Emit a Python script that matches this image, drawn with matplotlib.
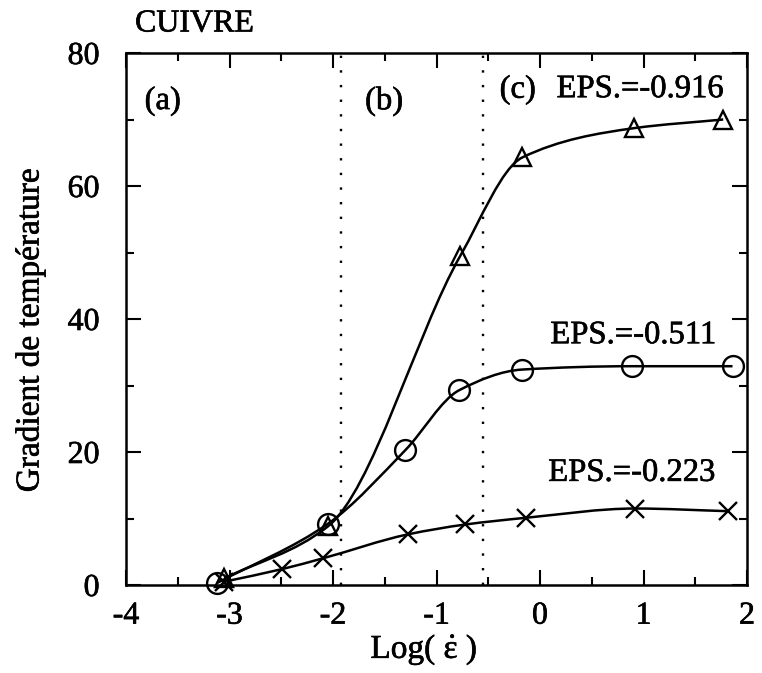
import numpy as np
import matplotlib
matplotlib.use('Agg')
import matplotlib.pyplot as plt
import matplotlib.patheffects as pe
from matplotlib.path import Path
from matplotlib.patches import PathPatch

# ---- data ----
x_tri = [-3.05, -2.05, -0.77, -0.17, 0.91, 1.77]
y_tri = [1.0, 8.8, 49.5, 64.3, 68.7, 70.0]

x_circ = [-3.12, -2.05, -1.30, -0.78, -0.17, 0.89, 1.86]
y_circ = [0.3, 9.2, 20.3, 29.3, 32.4, 32.9, 32.9]

x_cross = [-3.05, -2.49, -2.10, -1.28, -0.72, -0.14, 0.92, 1.82]
y_cross = [0.5, 2.4, 4.0, 7.6, 9.1, 10.1, 11.5, 11.1]

region_bounds = [-1.92, -0.55]
region_labels = ["(a)", "(b)", "(c)"]
series_labels = ["EPS.=-0.916", "EPS.=-0.511", "EPS.=-0.223"]
x_ticks = [-4, -3, -2, -1, 0, 1, 2]
y_ticks = [0, 20, 40, 60, 80]

plt.rcParams['font.family'] = ['Liberation Serif', 'DejaVu Serif']
plt.rcParams['mathtext.fontset'] = 'custom'
plt.rcParams['mathtext.rm'] = 'Liberation Serif'
plt.rcParams['mathtext.it'] = 'Liberation Serif:italic'

thick = [pe.withStroke(linewidth=0.45, foreground='black')]


def smooth_path(xs, ys):
    """Monotone cubic (Fritsch-Carlson) Bezier path through the points."""
    x = np.asarray(xs, float)
    y = np.asarray(ys, float)
    h = np.diff(x)
    d = np.diff(y) / h
    n = len(x)
    m = np.zeros(n)
    m[0] = d[0]
    m[-1] = d[-1]
    for i in range(1, n - 1):
        if d[i - 1] * d[i] <= 0:
            m[i] = 0.0
        else:
            w1 = 2 * h[i] + h[i - 1]
            w2 = h[i] + 2 * h[i - 1]
            m[i] = (w1 + w2) / (w1 / d[i - 1] + w2 / d[i])
    verts = [(x[0], y[0])]
    codes = [Path.MOVETO]
    for i in range(n - 1):
        verts += [(x[i] + h[i] / 3, y[i] + m[i] * h[i] / 3),
                  (x[i + 1] - h[i] / 3, y[i + 1] - m[i + 1] * h[i] / 3),
                  (x[i + 1], y[i + 1])]
        codes += [Path.CURVE4] * 3
    return Path(verts, codes)


fig = plt.figure(figsize=(7.62, 6.73), dpi=100)
ax = fig.add_axes([126 / 762, 1 - 585 / 673, (747 - 126) / 762, (585 - 53) / 673])

ax.set_xlim(-4, 2)
ax.set_ylim(0, 80)

lw = 1.8
for xs, ys, mk, ms in [(x_tri, y_tri, '^', 12.5),
                       (x_circ, y_circ, 'o', 15),
                       (x_cross, y_cross, 'x', 13)]:
    ax.add_patch(PathPatch(smooth_path(xs, ys), facecolor='none',
                           edgecolor='black', lw=lw, zorder=3))
    ax.plot(xs, ys, linestyle='none', marker=mk, markersize=ms,
            markerfacecolor='none', markeredgecolor='black',
            markeredgewidth=1.7, zorder=4, clip_on=False)

for xb in region_bounds:
    ax.axvline(xb, color='black', lw=1.7, linestyle=(0, (1, 5.2)), zorder=2)

fs = 23.5
ax.text(-3.82, 72.8, region_labels[0], fontsize=fs, va='center', ha='left', path_effects=thick)
ax.text(-1.69, 72.8, region_labels[1], fontsize=fs, va='center', ha='left', path_effects=thick)
ax.text(-0.39, 74.5, region_labels[2], fontsize=fs, va='center', ha='left', path_effects=thick)
ax.text(0.16, 74.6, series_labels[0], fontsize=fs, va='center', ha='left', path_effects=thick)
ax.text(0.10, 37.6, series_labels[1], fontsize=fs, va='center', ha='left', path_effects=thick)
ax.text(0.08, 16.9, series_labels[2], fontsize=fs, va='center', ha='left', path_effects=thick)

ax.set_xticks(x_ticks)
ax.set_xticklabels([str(v) for v in x_ticks])
ax.set_yticks(y_ticks)
ax.set_yticklabels([str(v) for v in y_ticks])
ax.set_xticks(np.arange(-4, 2.01, 0.5), minor=True)
ax.set_yticks(np.arange(0, 80.1, 10), minor=True)

ax.tick_params(which='both', direction='in', top=True, right=True,
               width=1.5, labelsize=23)
ax.tick_params(which='major', length=11)
ax.tick_params(which='minor', length=5.5)
ax.tick_params(axis='y', which='major', pad=19)
ax.tick_params(axis='x', which='major', pad=12)
for lab in ax.get_xticklabels() + ax.get_yticklabels():
    lab.set_path_effects(thick)
for sp in ax.spines.values():
    sp.set_linewidth(1.8)

fig.text(30 / 762, 1 - 330 / 673, "Gradient de température", fontsize=24,
         rotation=90, ha='center', va='center', path_effects=thick)
fig.text(424 / 762, 1 - 650 / 673, r"Log( $\dot{\mathrm{ε}}$ )", fontsize=24,
         ha='center', va='center', path_effects=thick)
fig.text(135 / 762, 1 - 24 / 673, "CUIVRE", fontsize=23, ha='left', va='center',
         path_effects=thick)

fig.savefig('out.png', dpi=100)
